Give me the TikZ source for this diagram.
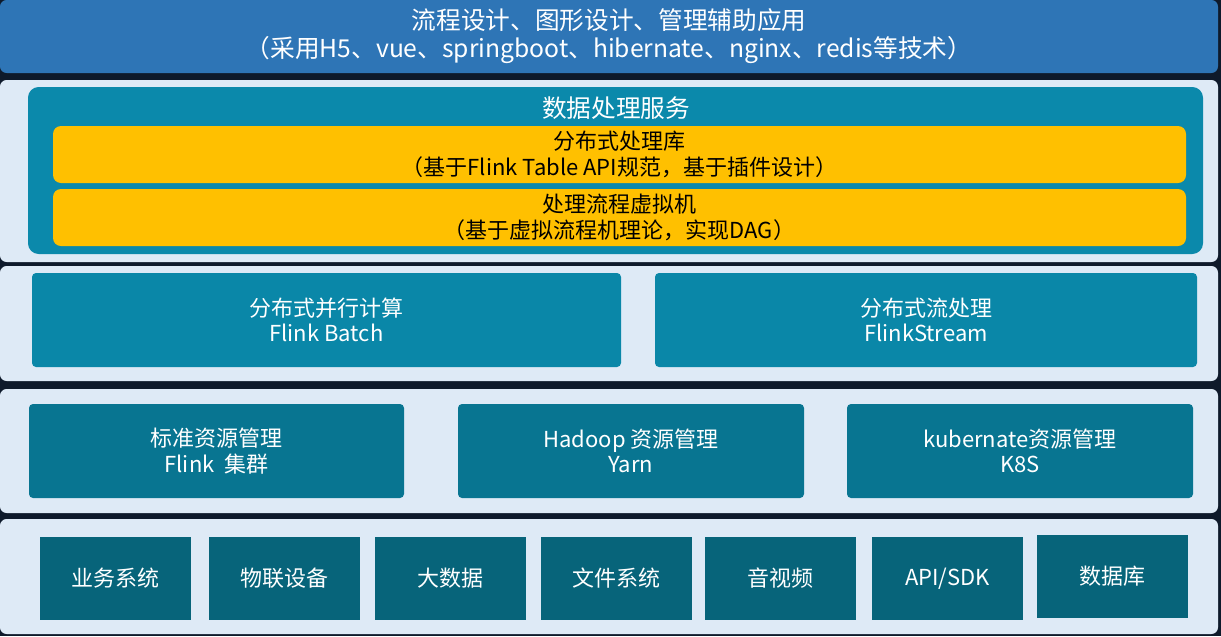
\documentclass[tikz,border=0pt]{standalone}
\usepackage{fontspec}
\setmainfont{Noto Sans CJK SC}
\definecolor{bgdark}{HTML}{0E1A2B}
\definecolor{topblue}{HTML}{2E75B6}
\definecolor{panelc}{HTML}{DEEAF6}
\definecolor{tealA}{HTML}{0B89AB}
\definecolor{tealB}{HTML}{0A87A8}
\definecolor{tealC}{HTML}{087591}
\definecolor{tealD}{HTML}{07647A}
\definecolor{yel}{HTML}{FFC000}
\newcommand\bx[7]{\node[#1, minimum width={(#5-#3)*0.75pt}, minimum height={(#6-#4)*0.75pt}] (#2) at ({(#3+#5)/2},{(#4+#6)/2}) {#7};}
\tikzset{
  base/.style={rectangle, inner sep=0pt, align=center, font=\fontsize{16.5}{19}\selectfont},
  topbar/.style={base, fill=topblue, rounded corners=5pt, text=white, font=\fontsize{18.5}{21}\selectfont},
  panel/.style={base, fill=panelc, rounded corners=5pt},
  dataproc/.style={base, fill=tealA, rounded corners=8pt},
  yelbox/.style={base, fill=yel, rounded corners=6pt, text=black},
  midbox/.style={base, fill=tealB, rounded corners=3pt, text=white},
  resbox/.style={base, fill=tealC, rounded corners=3pt, text=white},
  srcbox/.style={base, fill=tealD, text=white},
}
\begin{document}
\begin{tikzpicture}[x=0.75pt,y=-0.75pt]
\fill[bgdark] (0,0) rectangle (1221,636);
\useasboundingbox (0,0) rectangle (1221,636);
% top
\bx{topbar}{top}{0}{0}{1218}{73}{流程设计、图形设计、管理辅助应用\\（采用H5、vue、springboot、hibernate、nginx、redis等技术）}
% panel 2
\bx{panel}{p2}{0}{80}{1218}{262}{}
\bx{dataproc}{dp}{28}{87}{1203}{254}{}
\node[base, text=white, font=\fontsize{18.5}{21}\selectfont] (dpt) at (616,108) {数据处理服务};
\bx{yelbox}{y1}{53}{126}{1186}{183}{分布式处理库\\（基于Flink Table API规范，基于插件设计）}
\bx{yelbox}{y2}{53}{189}{1186}{246}{处理流程虚拟机\\（基于虚拟流程机理论，实现DAG）}
% panel 3
\bx{panel}{p3}{0}{266}{1218}{381}{}
\bx{midbox}{m1}{32}{273}{621}{367}{分布式并行计算\\Flink Batch}
\bx{midbox}{m2}{655}{273}{1197}{367}{分布式流处理\\FlinkStream}
% panel 4
\bx{panel}{p4}{0}{389}{1218}{513}{}
\bx{resbox}{r1}{29}{404}{404}{498}{标准资源管理\\Flink\ \ 集群}
\bx{resbox}{r2}{458}{404}{804}{498}{Hadoop 资源管理\\Yarn}
\bx{resbox}{r3}{847}{404}{1193}{498}{kubernate资源管理\\K8S}
% panel 5
\bx{panel}{p5}{0}{519}{1218}{634}{}
\bx{srcbox}{s1}{40}{537}{191}{620}{业务系统}
\bx{srcbox}{s2}{209}{537}{360}{620}{物联设备}
\bx{srcbox}{s3}{375}{537}{526}{620}{大数据}
\bx{srcbox}{s4}{541}{537}{692}{620}{文件系统}
\bx{srcbox}{s5}{705}{537}{856}{620}{音视频}
\bx{srcbox}{s6}{872}{537}{1023}{620}{API/SDK}
\bx{srcbox}{s7}{1037}{535}{1188}{618}{数据库}
\end{tikzpicture}
\end{document}
